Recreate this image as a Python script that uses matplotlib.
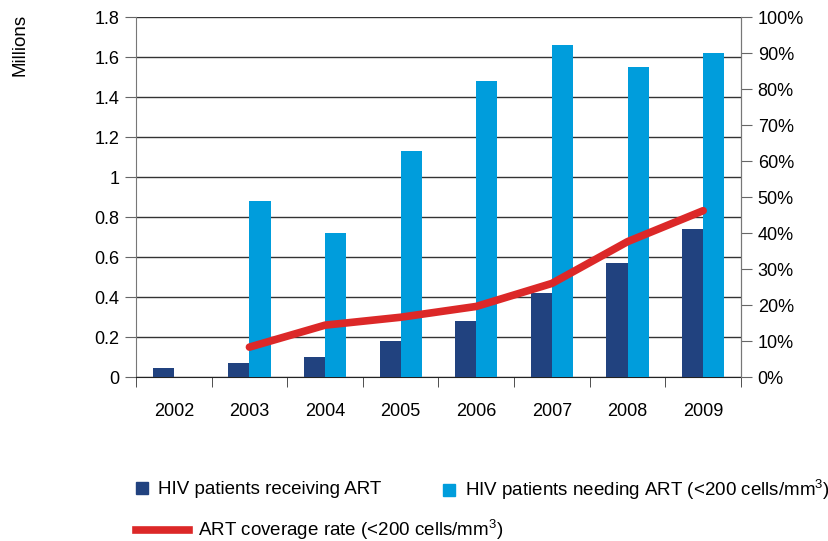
import numpy as np
import matplotlib.pyplot as plt
from matplotlib.patches import Patch
from matplotlib.lines import Line2D

plt.rcParams['font.family'] = ['Liberation Sans', 'DejaVu Sans']
plt.rcParams['mathtext.fontset'] = 'custom'
plt.rcParams['mathtext.rm'] = 'Liberation Sans'

years = ['2002', '2003', '2004', '2005', '2006', '2007', '2008', '2009']
receiving = [0.045, 0.07, 0.10, 0.18, 0.28, 0.42, 0.57, 0.74]
needing = [np.nan, 0.88, 0.72, 1.13, 1.48, 1.66, 1.55, 1.62]
coverage = [np.nan, 8.3, 14.4, 16.6, 19.6, 26.0, 37.6, 46.2]

dark = '#21427f'
light = '#009ddc'
red = '#dc2828'

fig = plt.figure(figsize=(8.29, 5.41), dpi=100)
ax = fig.add_axes([136/829, 1-377/541, (741-136)/829, 360/541])
x = np.arange(len(years))
w = 0.28
ax.bar(x - w/2, receiving, w, color=dark, zorder=3)
ax.bar(x + w/2, needing, w, color=light, zorder=3)
ax.set_xlim(-0.5, len(years) - 0.5)
ax.set_ylim(0, 1.8)
ax.set_yticks(np.arange(0, 1.81, 0.2))
ax.set_yticklabels(['0', '0.2', '0.4', '0.6', '0.8', '1', '1.2', '1.4', '1.6', '1.8'])
ax.grid(axis='y', color='#333333', lw=1, zorder=0)
ax.set_xticks(x)
ax.set_xticklabels(years)
ax.set_xticks(np.arange(-0.5, len(years)), minor=True)
ax.tick_params(axis='x', which='major', length=0, pad=19, labelsize=13)
ax.tick_params(axis='x', which='minor', length=7, color='#333333')
ax.tick_params(axis='y', length=8, color='#666666', pad=4, labelsize=13)
ax.spines['top'].set_visible(False)
ax.spines['left'].set_color('#777777')
ax.spines['right'].set_color('#777777')
ax.spines['bottom'].set_color('#222222')
fig.text(20/829, 1-45/541, 'Millions', rotation=90, fontsize=13.5, ha='center', va='center')

ax2 = ax.twinx()
ax2.plot(x, coverage, color=red, lw=5.5, solid_capstyle='round', zorder=4)
ax2.set_ylim(0, 100)
ax2.set_yticks(np.arange(0, 101, 10))
ax2.set_yticklabels([f'{v}%' for v in range(0, 101, 10)])
ax2.tick_params(axis='y', length=8, color='#666666', pad=4, labelsize=13)
for s in ['top', 'left', 'bottom']:
    ax2.spines[s].set_visible(False)
ax2.spines['right'].set_color('#777777')

# three legend entries placed one by one
fs = 13.5
entries = [
    (Patch(color=dark), 'HIV patients receiving ART', 136, 490, 0.65, 0.55),
    (Patch(color=light), 'HIV patients needing ART (<200 cells/mm$^3$)', 443, 490, 0.65, 0.55),
    (Line2D([], [], color=red, lw=5.5), 'ART coverage rate (<200 cells/mm$^3$)', 136, 530, 2.83, 0.48),
]
for h, lab, px, py, hl, pad in entries:
    fig.legend([h], [lab], loc='center left', bbox_to_anchor=(px/829, 1-py/541),
               frameon=False, fontsize=fs, borderpad=0, borderaxespad=0,
               handlelength=hl, handleheight=0.65, handletextpad=pad)

fig.savefig('out.png', dpi=100)
